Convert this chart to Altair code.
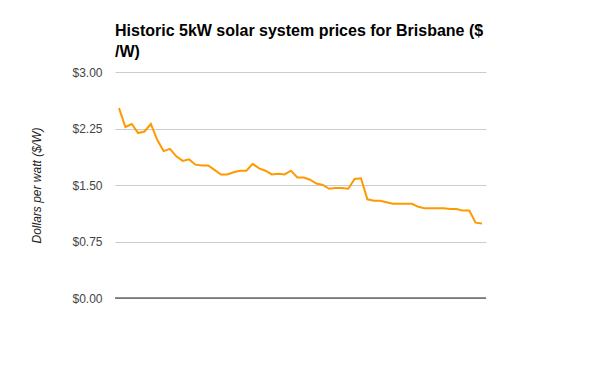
import altair as alt
import pandas as pd

periods = list(range(1, 59))
prices = [2.52, 2.27, 2.31, 2.19, 2.21, 2.31, 2.10, 1.95, 1.98, 1.88,
          1.82, 1.84, 1.77, 1.76, 1.76, 1.70, 1.64, 1.64, 1.67, 1.69,
          1.69, 1.78, 1.72, 1.69, 1.64, 1.65, 1.64, 1.69, 1.60, 1.60,
          1.57, 1.52, 1.50, 1.45, 1.46, 1.46, 1.45, 1.58, 1.59, 1.31,
          1.29, 1.29, 1.27, 1.25, 1.25, 1.25, 1.25, 1.21, 1.19, 1.19,
          1.19, 1.19, 1.18, 1.18, 1.16, 1.16, 1.00, 0.99]
y_ticks = [0, 0.75, 1.5, 2.25, 3.0]

df = pd.DataFrame({"period": periods, "price": prices})

FONT = "Liberation Sans"

line = alt.Chart(df).mark_line(color="#FF9900", strokeWidth=2).encode(
    x=alt.X("period:O", scale=alt.Scale(type="point", padding=0.63), axis=None),
    y=alt.Y("price:Q",
            scale=alt.Scale(domain=[0, 3]),
            axis=alt.Axis(values=y_ticks, format="$.2f", title="Dollars per watt ($/W)",
                          domain=False, ticks=False, grid=True, gridColor="#cccccc",
                          labelFont=FONT, labelFontSize=12, labelColor="#444444",
                          labelPadding=13, titleFont=FONT, titleFontSize=12,
                          titleFontStyle="italic", titleFontWeight="normal",
                          titleColor="#222222", titlePadding=28)),
)

zero = alt.Chart(pd.DataFrame({"y": [0]})).mark_rule(color="#222222", strokeWidth=1).encode(
    y=alt.Y("y:Q", scale=alt.Scale(domain=[0, 3]))
)

chart = alt.layer(line, zero).properties(
    width=371,
    height=226,
    background="white",
    title=alt.TitleParams(
        text=["Historic 5kW solar system prices for Brisbane ($", "/W)"],
        anchor="start", frame="group", font=FONT, fontSize=16, fontWeight="bold",
        color="#000000", lineHeight=21, offset=6),
    padding={"left": 107, "top": 64, "right": 100, "bottom": 60},
    autosize=alt.AutoSizeParams(type="none"),
).configure_view(stroke=None)

chart.save("out.html", embed_options={"renderer": "svg", "actions": False})
